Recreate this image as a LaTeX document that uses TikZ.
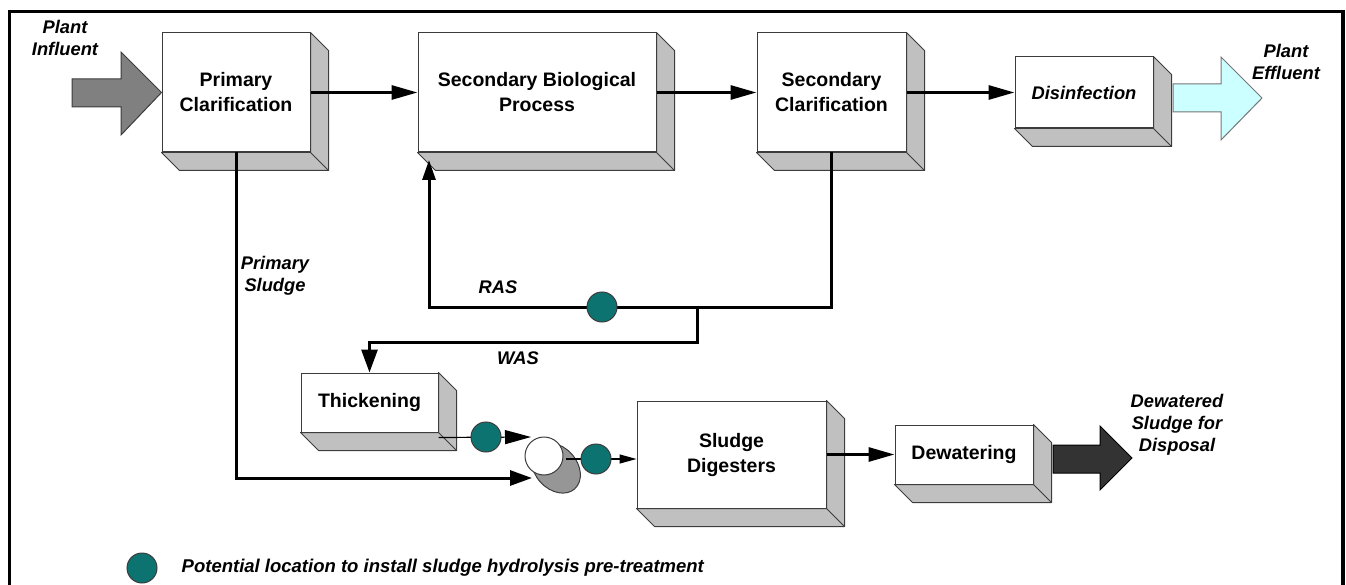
\documentclass[tikz,border=0pt]{standalone}
\usepackage{fontspec}
\setmainfont{Liberation Sans}
\usepackage{tikz}
\usetikzlibrary{arrows.meta, positioning}

\definecolor{depthgray}{RGB}{192,192,192}
\definecolor{edgegray}{RGB}{60,60,60}
\definecolor{hydroteal}{RGB}{13,115,112}
\definecolor{influentgray}{RGB}{128,128,128}
\definecolor{effluentcyan}{RGB}{204,255,255}
\definecolor{sludgedark}{RGB}{51,51,51}
\definecolor{mixgray}{RGB}{150,150,150}

\begin{document}
\begin{tikzpicture}[x=1pt, y=-1pt,
    box/.style={draw=edgegray, fill=white, line width=1pt, inner sep=0pt, align=center,
      font=\bfseries\fontsize{19.5}{25}\selectfont},
    lbl/.style={inner sep=0pt, align=center, font=\bfseries\itshape\fontsize{18.3}{22}\selectfont},
    thk/.style={line width=3pt},
    thn/.style={line width=1.2pt},
    hydro/.style={circle, fill=hydroteal, draw=edgegray, line width=1pt, minimum size=30pt, inner sep=0pt},
    >={Triangle[length=26pt, width=14pt]}]
    \useasboundingbox (0,0) rectangle (1346,585);
    \draw[line width=3.5pt] (9.5,600) -- (9.5,11.5) -- (1343,11.5) -- (1343,600);

    \node[box, minimum width=148pt, minimum height=119pt] (PC) at (236,92.5) {Primary\\Clarification};
    \node[box, minimum width=238pt, minimum height=119pt] (SBP) at (537,92.5) {Secondary Biological\\Process};
    \node[box, minimum width=149pt, minimum height=119pt] (SC) at (831.5,92.5) {Secondary\\Clarification};
    \node[box, minimum width=138pt, minimum height=71pt, font=\bfseries\itshape\fontsize{18.3}{22}\selectfont] (DI) at (1084,92.5) {Disinfection};
    \node[box, minimum width=137pt, minimum height=59pt] (TH) at (369.5,402.5) {Thickening};
    \node[box, minimum width=189pt, minimum height=107pt] (SD) at (731.5,454.5) {Sludge\\Digesters};
    \node[box, minimum width=138pt, minimum height=59pt] (DW) at (964,454.5) {Dewatering};
    \foreach \b in {PC,SBP,SC,DI,TH,SD,DW} {
      \filldraw[fill=depthgray, draw=edgegray, line width=1pt, line join=round]
        (\b.north east) -- ([shift={(18,18)}]\b.north east) -- ([shift={(18,18)}]\b.south east)
        -- ([shift={(18,18)}]\b.south west) -- (\b.south west) -- (\b.south east) -- cycle;
      \draw[edgegray, line width=1pt] (\b.south east) -- ++(18,18);
    }

    \filldraw[fill=influentgray, draw=edgegray, line width=1pt]
      (72,79) -- (121,79) -- (121,52) -- (PC.west) -- (121,135) -- (121,107) -- (72,107) -- cycle;
    \filldraw[fill=effluentcyan, draw=edgegray!70, line width=1pt]
      (1173,84) -- (1221,84) -- (1221,57) -- (1262,98) -- (1221,140) -- (1221,112) -- (1173,112) -- cycle;
    \filldraw[fill=sludgedark, draw=black, line width=1pt]
      (1053,445) -- (1100,445) -- (1100,426) -- (1132,458) -- (1100,490) -- (1100,473) -- (1053,473) -- cycle;

    \coordinate (ras) at (697,307);
    \coordinate (rasin) at (429,160);
    \coordinate (psin) at (532,478);
    \coordinate (mixA) at (531,437);
    \coordinate (mixout) at (566,459);

    \draw[thk, ->] (PC.east) -- (SBP.west);
    \draw[thk, ->] (SBP.east) -- (SC.west);
    \draw[thk, ->] (SC.east) -- (DI.west);
    \draw[thk, ->] (SD.east) -- (DW.west);
    \draw[thk, -{Triangle[length=20pt, width=13pt]}] (SC.south) |- (ras) -| (rasin);
    \draw[thk, -{Triangle[length=23pt, width=16pt]}] (ras) -- ++(0,35) -| (TH.north);
    \draw[thk, -{Triangle[length=22pt, width=15pt]}] (PC.south) |- (psin);
    \draw[thn, ->] ([yshift=-5pt]TH.south east) -- (mixA);

    \begin{scope}[shift={(556,468)}, rotate=-48]
      \filldraw[fill=mixgray, draw=edgegray, line width=1pt] (0,0) ellipse [x radius=28, y radius=21];
    \end{scope}
    \draw[thn, -{Triangle[length=17pt, width=9pt]}] (mixout) -- (SD.west |- mixout);
    \node[circle, draw=edgegray, fill=white, line width=1pt, minimum size=38pt, inner sep=0pt] (mix) at (544,456) {};

    \node[hydro] (h1) at (602,307) {};
    \node[hydro] (h2) at (486,437) {};
    \node[hydro] (h3) at (596,459) {};
    \node[hydro] (hl) at (142,568) {};

    \node[lbl] (inf) at (65,38) {Plant\\Influent};
    \node[lbl] (eff) at (1286,62) {Plant\\Effluent};
    \node[lbl] (pslbl) at (275,276) {Primary\\Sludge};
    \node[lbl] (raslbl) at (498,287) {RAS};
    \node[lbl] (waslbl) at (518,358) {WAS};
    \node[lbl] (disp) at (1177,424.5) {Dewatered\\Sludge for\\Disposal};
    \node[lbl, font=\bfseries\itshape\fontsize{18.5}{22}\selectfont, right=24pt of hl] (legend) {Potential location to install sludge hydrolysis pre-treatment};
\end{tikzpicture}
\end{document}
